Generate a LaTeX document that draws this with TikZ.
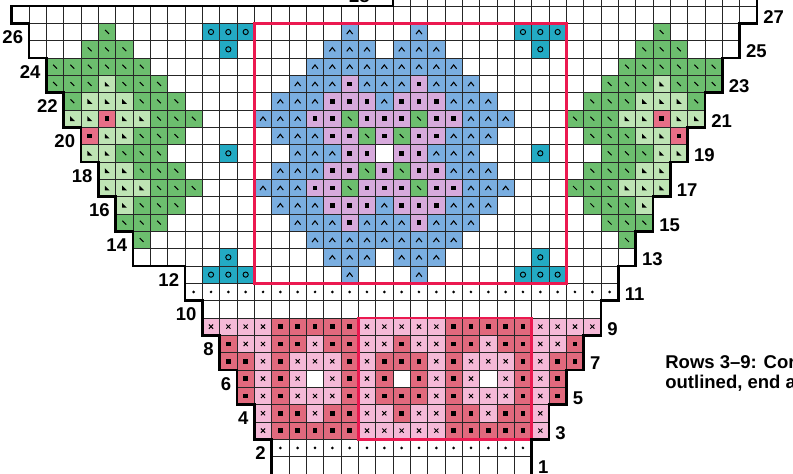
\documentclass[tikz,border=0pt]{standalone}
\usepackage{fontspec}
\setsansfont{Liberation Sans}
\definecolor{leafdark}{HTML}{6CBE6E}
\definecolor{leaflight}{HTML}{BEE4B4}
\definecolor{berry}{HTML}{E86E87}
\definecolor{beadteal}{HTML}{23AAC3}
\definecolor{petalblue}{HTML}{7AAEE0}
\definecolor{petalmauve}{HTML}{D7AADC}
\definecolor{bowlpink}{HTML}{F5B9D7}
\definecolor{bowlrose}{HTML}{E1697D}
\definecolor{framered}{HTML}{EB1950}
\begin{document}
\begin{tikzpicture}[x=0.52cm, y=-0.52cm,
    gridline/.style={black!85, line width=0.75pt},
    outline/.style={black, line width=2.2pt, line join=miter},
    redframe/.style={draw=framered, line width=2.4pt},
    sym/.style={black, line width=0.9pt},
    rowlab/.style={font=\sffamily\bfseries\fontsize{15.8}{19}\selectfont, inner sep=0pt},
    note/.style={font=\sffamily\bfseries\fontsize{15.8}{19}\selectfont, inner sep=0pt, anchor=base west}
  ]
  \useasboundingbox (-0.675,-0.346) rectangle (45.08,27.0);
  \clip (-0.675,-0.346) rectangle (45.08,27.0);
  \fill[white] (-0.675,-0.346) rectangle (45.08,27.0);

  % Leaves -- dark stitches, left side and mirrored right side
  \foreach \k/\cols in {1/{5}, 2/{4,5,6}, 3/{2,3,4,5,6,7}, 4/{2,3,4,6,7,8},
                        5/{3,7,8,9}, 6/{8,9,10}, 7/{7,8,9}, 8/{6,7,8}, 9/{7,8,9},
                        10/{8,9,10}, 11/{7,8,9}, 12/{6,7,8}, 13/{7}} {
    \foreach \j in \cols {
      \foreach \cx in {\j, 42-\j} {
        \fill[leafdark] (\cx,\k) rectangle ++(1,1);
        \draw[sym] (\cx+0.39,\k+0.39) -- ++(0.22,0.22);
      }
    }
  }
  % Leaves -- light stitches
  \foreach \k/\cols in {4/{5}, 5/{4,5,6}, 6/{3,4,6,7}, 7/{5,6}, 8/{4,5},
                        9/{5,6}, 10/{5,6,7}, 11/{6}} {
    \foreach \j in \cols {
      \foreach \cx in {\j, 42-\j} {
        \fill[leaflight] (\cx,\k) rectangle ++(1,1);
        \fill (\cx+0.37,\k+0.36) -- ++(0,0.28) -- ++(0.28,0) -- cycle;
      }
    }
  }
  % Berries in the leaves
  \foreach \j/\k in {5/6, 4/7} {
    \foreach \cx in {\j, 42-\j} {
      \fill[berry] (\cx,\k) rectangle ++(1,1);
      \fill (\cx+0.37,\k+0.37) rectangle ++(0.26,0.26);
    }
  }

  % Corner beads
  \foreach \j/\k in {11/1, 12/1, 13/1, 12/2, 12/8, 12/14, 11/15, 12/15, 13/15} {
    \foreach \cx in {\j, 42-\j} {
      \fill[beadteal] (\cx,\k) rectangle ++(1,1);
      \draw[sym, line width=0.8pt] (\cx+0.5,\k+0.5) circle[radius=0.15];
    }
  }

  % Flower -- one quarter, mirrored both ways
  \foreach \k/\cols in {1/{19}, 2/{18,19,20}, 3/{17,18,19,20,21}, 4/{16,17,18,20,21},
                        5/{15,16,17,21}, 6/{14,15,16}, 7/{15,16,17}, 8/{16,17,18}} {
    \foreach \j in \cols {
      \foreach \cx/\ky in {\j/\k, 42-\j/\k, \j/16-\k, 42-\j/16-\k} {
        \fill[petalblue] (\cx,\ky) rectangle ++(1,1);
        \draw[sym] (\cx+0.33,\ky+0.62) -- (\cx+0.5,\ky+0.4) -- (\cx+0.67,\ky+0.62);
      }
    }
  }
  \foreach \k/\cols in {4/{19}, 5/{18,19,20}, 6/{17,18,20,21}, 7/{18,19,21}, 8/{19,20}} {
    \foreach \j in \cols {
      \foreach \cx/\ky in {\j/\k, 42-\j/\k, \j/16-\k, 42-\j/16-\k} {
        \fill[petalmauve] (\cx,\ky) rectangle ++(1,1);
        \fill (\cx+0.37,\ky+0.37) rectangle ++(0.26,0.26);
      }
    }
  }
  \foreach \j/\k in {19/6, 20/7} {
    \foreach \cx/\ky in {\j/\k, 42-\j/\k, \j/16-\k, 42-\j/16-\k} {
      \fill[leafdark] (\cx,\ky) rectangle ++(1,1);
      \draw[sym] (\cx+0.39,\ky+0.39) -- ++(0.22,0.22);
    }
  }

  % Bowl band, rows 9 to 3 -- row / first cell / last cell / rose cells
  \foreach \k/\l/\rr/\sq in {18/11/33/{15,16,17,18,19,25,26,27,28,29},
                             19/12/32/{12,15,16,18,19,22,25,26,28,29,32},
                             20/12/32/{12,13,15,19,21,22,23,25,29,31,32},
                             21/13/31/{13,15,19,21,23,25,29,31},
                             22/13/31/{13,15,19,21,22,23,25,29,31},
                             23/14/30/{15,16,18,19,22,25,26,28,29},
                             24/14/30/{15,16,17,18,19,25,26,27,28,29}} {
    \foreach \j in {\l,...,\rr} {
      \fill[bowlpink] (\j,\k) rectangle ++(1,1);
      \draw[sym, line width=0.8pt] (\j+0.38,\k+0.38) -- ++(0.24,0.24)
                                   (\j+0.38,\k+0.62) -- ++(0.24,-0.24);
    }
    \foreach \j in \sq {
      \fill[bowlrose] (\j,\k) rectangle ++(1,1);
      \fill (\j+0.37,\k+0.37) rectangle ++(0.26,0.26);
    }
  }
  \foreach \j in {17,22,27} { \fill[white] (\j,21) rectangle ++(1,1); }

  % Dotted rows 11 and 2
  \foreach \j in {10,...,34} { \fill (\j+0.5,16.5) circle[radius=0.085]; }
  \foreach \j in {15,...,29} { \fill (\j+0.5,25.5) circle[radius=0.085]; }

  % Grid -- row / first line / last line
  \foreach \k/\l/\rr in {-1/22/43, 0/0/43, 1/1/42, 2/1/42, 3/2/41, 4/2/41, 5/3/40,
                         6/3/40, 7/4/39, 8/4/39, 9/5/38, 10/5/38, 11/6/37, 12/6/37,
                         13/7/36, 14/7/36, 15/10/35, 16/10/35, 17/11/34, 18/11/34,
                         19/12/33, 20/12/33, 21/13/32, 22/13/32, 23/14/31, 24/14/31,
                         25/15/30, 26/15/30} {
    \draw[gridline] (\l,\k) -- (\rr,\k) (\l,\k+1) -- (\rr,\k+1);
    \foreach \j in {\l,...,\rr} { \draw[gridline] (\j,\k) -- (\j,\k+1); }
  }

  % Outlined repeats
  \draw[redframe] (14,1) rectangle (32,16);
  \draw[redframe] (20,18) rectangle (30,25);

  % Chart border
  \draw[outline] (15,27.5) -- (15,25) -- (14,25) -- (14,23) -- (13,23) -- (13,21)
    -- (12,21) -- (12,19) -- (11,19) -- (11,17) -- (10,17) -- (10,15) -- (7,15)
    -- (7,13) -- (6,13) -- (6,11) -- (5,11) -- (5,9) -- (4,9) -- (4,7) -- (3,7)
    -- (3,5) -- (2,5) -- (2,3) -- (1,3) -- (1,1) -- (0,1) -- (0,0) -- (22,0) -- (22,-1.5);
  \draw[outline] (43,-1.5) -- (43,1) -- (42,1) -- (42,3) -- (41,3) -- (41,5) -- (40,5)
    -- (40,7) -- (39,7) -- (39,9) -- (38,9) -- (38,11) -- (37,11) -- (37,13) -- (36,13)
    -- (36,15) -- (35,15) -- (35,17) -- (34,17) -- (34,19) -- (33,19) -- (33,21)
    -- (32,21) -- (32,23) -- (31,23) -- (31,25) -- (30,25) -- (30,27.5);

  % Row numbers
  \foreach \n/\k/\l in {26/1/1, 24/3/2, 22/5/3, 20/7/4, 18/9/5, 16/11/6, 14/13/7,
                        12/15/10, 10/17/11, 8/19/12, 6/21/13, 4/23/14, 2/25/15} {
    \node[rowlab, anchor=east] (lab\n) at (\l-0.33,\k+0.79) {\n};
  }
  \node[rowlab, anchor=east] (lab28) at (20.67,-0.55) {28};
  \foreach \n/\k/\rr in {27/0/43, 25/2/42, 23/4/41, 21/6/40, 19/8/39, 17/10/38,
                         15/12/37, 13/14/36, 11/16/35, 9/18/34, 7/20/33, 5/22/32,
                         3/24/31, 1/26/30} {
    \node[rowlab, anchor=west] (lab\n) at (\rr+0.36,\k+0.62) {\n};
  }

  % Instructions
  \node[note] (notea) at (37.7,20.93) {Rows 3–9: Cor};
  \node[note] (noteb) at (37.7,22.08) {outlined, end a};

\end{tikzpicture}
\end{document}
